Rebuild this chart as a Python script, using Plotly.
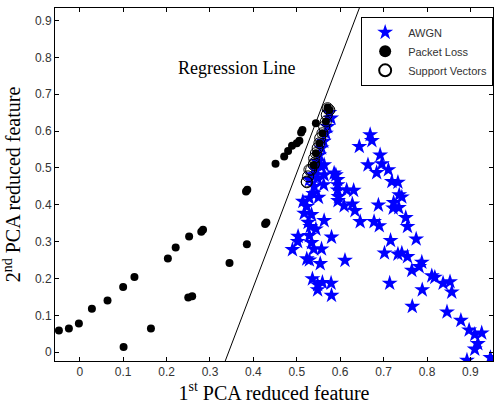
import plotly.graph_objects as go

# ---- data ----
loss_x = [-0.048, -0.025, -0.002, 0.028, 0.064, 0.100, 0.126, 0.101, 0.164, 0.203, 0.221, 0.252,
          0.250, 0.259, 0.280, 0.284, 0.345, 0.385, 0.383, 0.386, 0.427, 0.430, 0.451, 0.471,
          0.480, 0.489, 0.500, 0.506, 0.510, 0.513, 0.544, 0.571, 0.575,
          0.567, 0.559, 0.552, 0.544, 0.539]
loss_y = [0.059, 0.064, 0.078, 0.118, 0.140, 0.177, 0.204, 0.014, 0.064, 0.254, 0.284, 0.314,
          0.148, 0.152, 0.327, 0.332, 0.242, 0.293, 0.436, 0.441, 0.348, 0.352, 0.511, 0.531,
          0.546, 0.560, 0.567, 0.574, 0.596, 0.603, 0.621, 0.664, 0.657,
          0.626, 0.594, 0.567, 0.540, 0.508]

awgn_x = [0.579, 0.571, 0.567, 0.562, 0.557, 0.552, 0.548, 0.556, 0.544, 0.536, 0.563, 0.586,
          0.563, 0.529, 0.548, 0.594, 0.575,
          0.540, 0.562, 0.594, 0.594, 0.615, 0.631, 0.595, 0.609, 0.628, 0.634, 0.646, 0.514,
          0.529, 0.523, 0.517, 0.534, 0.526, 0.531, 0.544, 0.563, 0.503, 0.502, 0.490, 0.529,
          0.534, 0.539, 0.557, 0.580, 0.523, 0.529, 0.554, 0.611, 0.536, 0.548, 0.548, 0.559,
          0.579, 0.580, 0.590, 0.596, 0.538, 0.550,
          0.644, 0.669, 0.673, 0.692, 0.696, 0.664, 0.684, 0.711, 0.719, 0.733, 0.736, 0.742,
          0.723, 0.688, 0.722, 0.735, 0.751, 0.755, 0.678, 0.690, 0.775, 0.716, 0.702,
          0.733, 0.742, 0.755, 0.765, 0.782, 0.788, 0.714, 0.789, 0.766, 0.811, 0.818, 0.837,
          0.853, 0.857, 0.846, 0.878, 0.897, 0.910, 0.926, 0.917, 0.910, 0.892, 0.946]
awgn_y = [0.635, 0.612, 0.594, 0.572, 0.554, 0.535, 0.517, 0.504, 0.495, 0.481, 0.508, 0.486,
          0.481, 0.468, 0.472, 0.468, 0.650,
          0.449, 0.454, 0.454, 0.440, 0.440, 0.439, 0.411, 0.397, 0.402, 0.384, 0.354, 0.409,
          0.418, 0.395, 0.377, 0.373, 0.352, 0.341, 0.334, 0.357, 0.314, 0.300, 0.278, 0.316,
          0.297, 0.280, 0.280, 0.312, 0.253, 0.250, 0.240, 0.249, 0.199, 0.183, 0.169, 0.189,
          0.187, 0.154, 0.481, 0.422, 0.430, 0.420,
          0.558, 0.590, 0.574, 0.535, 0.511, 0.508, 0.487, 0.495, 0.463, 0.461, 0.427, 0.421,
          0.406, 0.399, 0.391, 0.392, 0.365, 0.341, 0.354, 0.343, 0.307, 0.303, 0.269,
          0.266, 0.269, 0.259, 0.222, 0.232, 0.244, 0.187, 0.169, 0.124, 0.207, 0.203, 0.187,
          0.191, 0.163, 0.109, 0.086, 0.060, 0.048, 0.052, 0.023, 0.008, -0.022, -0.015]

sv_x = [0.571, 0.575, 0.569, 0.567, 0.563, 0.559, 0.554, 0.552, 0.548, 0.544, 0.540, 0.539,
        0.533, 0.526, 0.523, 0.529, 0.523, 0.540]
sv_y = [0.662, 0.657, 0.644, 0.626, 0.612, 0.594, 0.581, 0.567, 0.554, 0.540, 0.526, 0.508,
        0.495, 0.477, 0.461, 0.495, 0.463, 0.513]

reg_slope = 3.10
reg_intercept = -1.063

x_range = [-0.057, 0.952]
y_range = [-0.024, 0.934]
tick_vals = [0, 0.1, 0.2, 0.3, 0.4, 0.5, 0.6, 0.7, 0.8, 0.9]
tick_text = ["0", "0.1", "0.2", "0.3", "0.4", "0.5", "0.6", "0.7", "0.8", "0.9"]

# regression line endpoints from axis range
ly = [y_range[0], y_range[1]]
lx = [(v - reg_intercept) / reg_slope for v in ly]

fig = go.Figure()
fig.add_trace(go.Scatter(x=lx, y=ly, mode="lines", line=dict(color="black", width=1),
                         showlegend=False, hoverinfo="skip"))
fig.add_trace(go.Scatter(x=awgn_x, y=awgn_y, mode="markers", name="AWGN",
                         marker=dict(symbol="star", size=12, color="#0000FF",
                                     line=dict(width=0))))
fig.add_trace(go.Scatter(x=loss_x, y=loss_y, mode="markers", name="Packet Loss",
                         marker=dict(symbol="circle", size=8, color="black",
                                     line=dict(width=0))))
fig.add_trace(go.Scatter(x=sv_x, y=sv_y, mode="markers", name="Support Vectors",
                         marker=dict(symbol="circle-open", size=11, color="black",
                                     line=dict(width=1, color="black"))))

axis_common = dict(showgrid=False, zeroline=False, showline=True, linecolor="black",
                   linewidth=1, mirror="ticks", ticks="inside", ticklen=4,
                   tickcolor="black", tickvals=tick_vals, ticktext=tick_text,
                   tickfont=dict(family="Arial", size=12, color="#333333"))

fig.update_layout(
    width=494, height=405,
    margin=dict(l=55, r=1, t=8, b=44),
    paper_bgcolor="white", plot_bgcolor="white",
    xaxis=dict(range=x_range, **axis_common,
               title=dict(text="1<sup>st</sup> PCA reduced feature",
                          font=dict(family="Liberation Serif", size=20, color="black"),
                          standoff=4)),
    yaxis=dict(range=y_range, **axis_common,
               title=dict(text="2<sup>nd</sup> PCA reduced feature",
                          font=dict(family="Liberation Serif", size=20, color="black"),
                          standoff=8)),
    legend=dict(x=0.699, y=0.975, xanchor="left", yanchor="top",
                bordercolor="black", borderwidth=1, bgcolor="white",
                font=dict(family="Arial", size=11, color="#333333"),
                tracegroupgap=0, itemsizing="constant", itemwidth=36),
    showlegend=True,
    annotations=[dict(x=0.361, y=0.772, xref="x", yref="y", text="Regression Line",
                      showarrow=False,
                      font=dict(family="Liberation Serif", size=18, color="black"))],
)

fig.write_html("out.html")
